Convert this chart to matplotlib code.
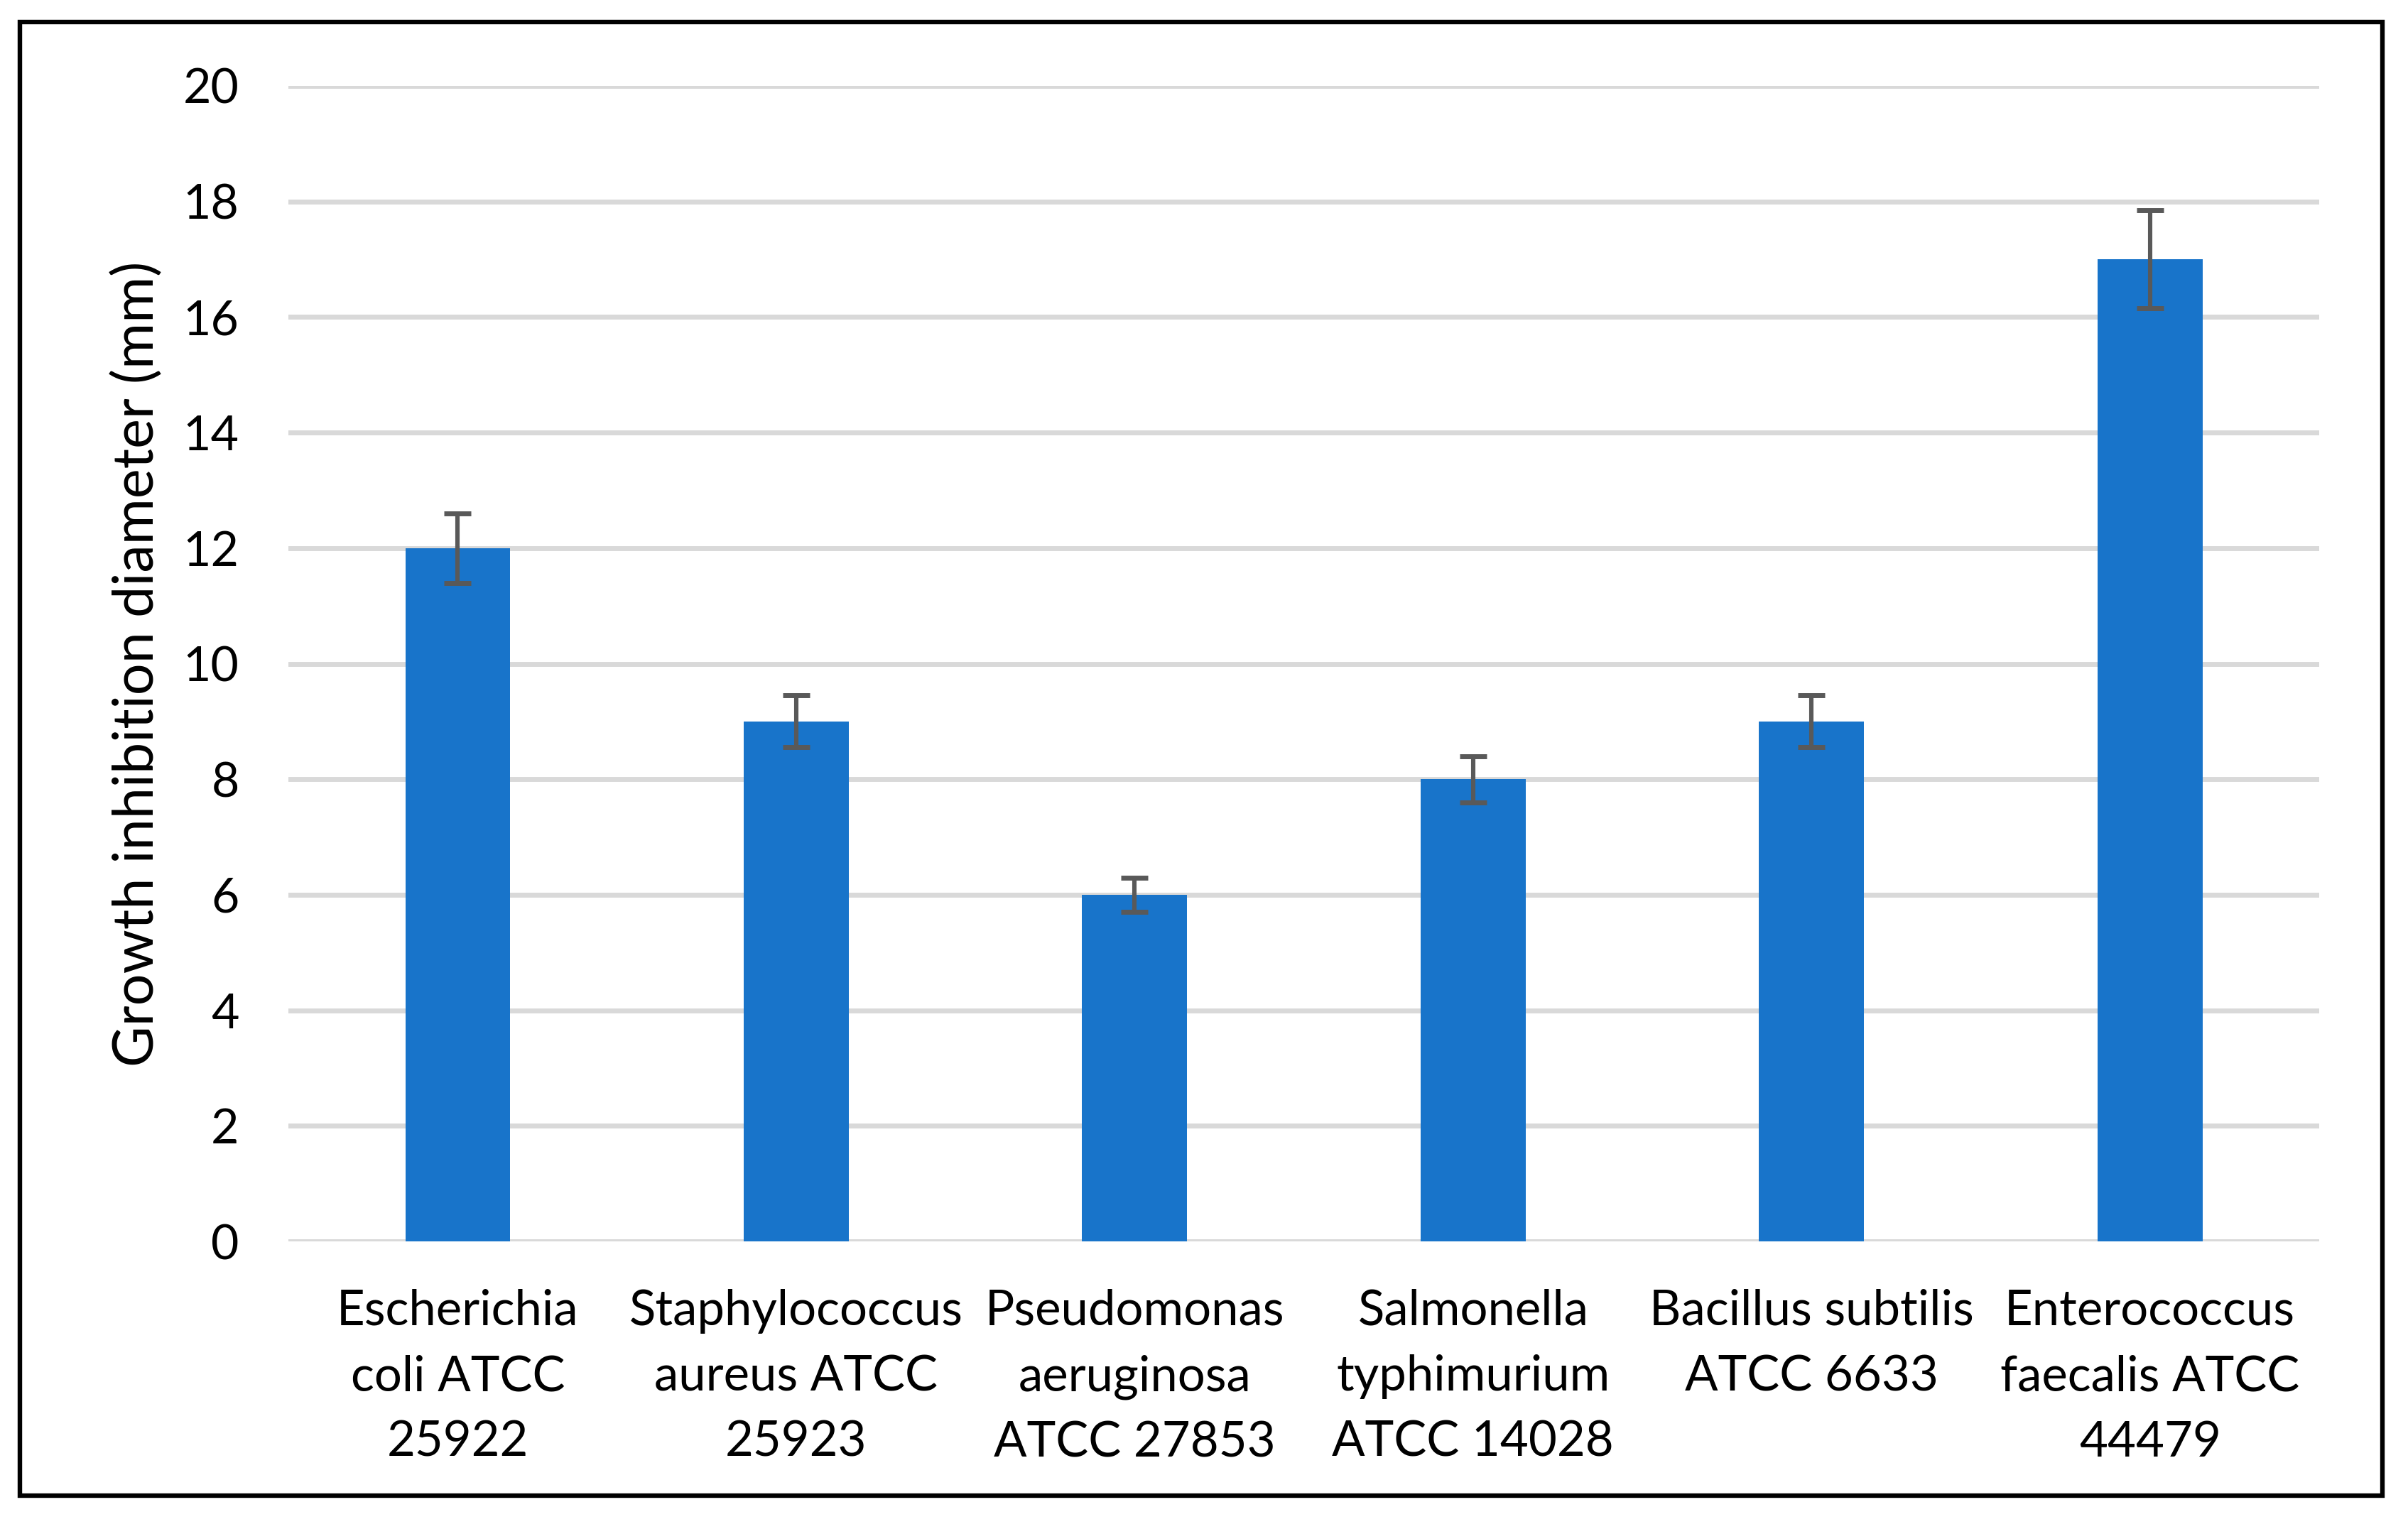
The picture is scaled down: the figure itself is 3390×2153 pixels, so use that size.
import matplotlib.pyplot as plt
from matplotlib.patches import Rectangle

# Inhibition zone data (mm), mean and error
strains = [
    "Escherichia\ncoli ATCC\n25922",
    "Staphylococcus\naureus ATCC\n25923",
    "Pseudomonas\naeruginosa\nATCC 27853",
    "Salmonella\ntyphimurium\nATCC 14028",
    "Bacillus subtilis\nATCC 6633",
    "Enterococcus\nfaecalis ATCC\n44479",
]
diameter = [12, 9, 6, 8, 9, 17]
error = [0.6, 0.45, 0.3, 0.4, 0.45, 0.85]
y_ticks = [0, 2, 4, 6, 8, 10, 12, 14, 16, 18, 20]

plt.rcParams['font.family'] = ['Lato', 'DejaVu Sans']

fig = plt.figure(figsize=(16.95, 10.765), dpi=200)
ax = fig.add_axes([0.1198, 0.1881, 0.8433, 0.7557])

x = list(range(len(strains)))
ax.bar(x, diameter, width=0.31, color='#1874CA', zorder=3)
ax.errorbar(x, diameter, yerr=error, fmt='none', ecolor='#595959',
            elinewidth=2.2, capsize=7, capthick=2.5, zorder=4)

ax.set_xlim(-0.5, len(strains) - 0.5)
ax.set_ylim(0, 20)
ax.set_yticks(y_ticks)
ax.set_xticks(x)
ax.set_xticklabels(strains, fontsize=24.8, linespacing=1.58)
ax.tick_params(axis='y', labelsize=24.5, length=0, pad=25)
ax.tick_params(axis='x', length=0, pad=24)
ax.grid(axis='y', color='#D9D9D9', linewidth=2.5, zorder=0)
for s in ax.spines.values():
    s.set_visible(False)
ax.set_ylabel("Growth inhibition diameter (mm)", fontsize=28.5, labelpad=10)

# black frame around the whole chart
fig.patches.append(Rectangle((28 / 3390, 1 - 2106 / 2153), (3354 - 28) / 3390,
                             (2106 - 31) / 2153, transform=fig.transFigure,
                             fill=False, edgecolor='black', linewidth=2.3))

plt.savefig("out.png", dpi=200)
